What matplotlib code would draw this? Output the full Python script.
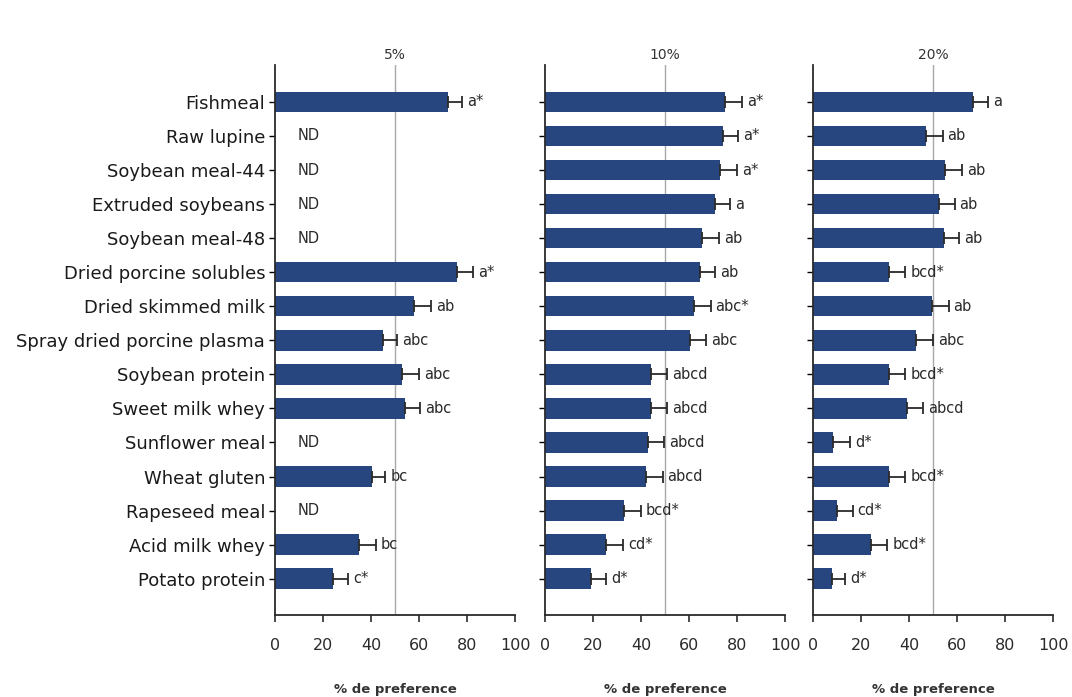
import numpy as np
import matplotlib.pyplot as plt

plt.rcParams['font.family'] = ['DejaVu Sans']

ingredients = ['Fishmeal', 'Raw lupine', 'Soybean meal-44', 'Extruded soybeans',
               'Soybean meal-48', 'Dried porcine solubles', 'Dried skimmed milk',
               'Spray dried porcine plasma', 'Soybean protein', 'Sweet milk whey',
               'Sunflower meal', 'Wheat gluten', 'Rapeseed meal', 'Acid milk whey',
               'Potato protein']

levels = ['5%', '10%', '20%']

# None = not determined (ND)
pref_5 = [72, None, None, None, None, 76, 58, 45, 53, 54, None, 40.5, None, 35, 24]
err_5 = [6, None, None, None, None, 6.5, 7, 6, 7, 6.5, None, 5.5, None, 7, 6.5]
lab_5 = ['a*', '', '', '', '', 'a*', 'ab', 'abc', 'abc', 'abc', '', 'bc', '', 'bc', 'c*']

pref_10 = [75, 74, 73, 71, 65.5, 64.5, 62, 60.5, 44, 44, 43, 42, 33, 25.5, 19]
err_10 = [7, 6.5, 7, 6, 7, 6.5, 7, 6.5, 7, 7, 6.5, 7, 7, 7, 6.5]
lab_10 = ['a*', 'a*', 'a*', 'a', 'ab', 'ab', 'abc*', 'abc', 'abcd', 'abcd', 'abcd',
          'abcd', 'bcd*', 'cd*', 'd*']

pref_20 = [66.5, 47, 55, 52.5, 54.5, 31.5, 49.5, 43, 31.5, 39, 8.5, 31.5, 10, 24, 8]
err_20 = [6.5, 7, 7, 6.5, 6.5, 7, 7, 7, 7, 7, 7, 7, 6.5, 7, 5.5]
lab_20 = ['a', 'ab', 'ab', 'ab', 'ab', 'bcd*', 'ab', 'abc', 'bcd*', 'abcd', 'd*',
          'bcd*', 'cd*', 'bcd*', 'd*']

panels = [(pref_5, err_5, lab_5), (pref_10, err_10, lab_10), (pref_20, err_20, lab_20)]
lefts = [0.2565, 0.5084, 0.7584]
width = 0.224
bar_color = '#27467f'
ink = '#2a2a2a'

fig = plt.figure(figsize=(10.72, 6.97), dpi=100)
y = np.arange(len(ingredients))

for k, (vals, errs, labs) in enumerate(panels):
    ax = fig.add_axes([lefts[k], 0.118, width, 0.789])
    ax.axvline(50, color='#a8a8a8', lw=1.0, zorder=0)
    for i, (v, e, lab) in enumerate(zip(vals, errs, labs)):
        if v is None:
            ax.text(9.5, i, 'ND', ha='left', va='center', fontsize=10.5, color=ink)
            continue
        ax.barh(i, v, height=0.6, color=bar_color, zorder=2)
        ax.errorbar(v, i, xerr=[[0], [e]], fmt='none', ecolor=ink,
                    elinewidth=1.3, capsize=4, capthick=1.3, zorder=3)
        ax.text(v + e + 2, i, lab, ha='left', va='center', fontsize=10.5, color=ink)

    ax.set_xlim(0, 100)
    ax.set_ylim(len(ingredients) - 1 + 1.06, -1.09)
    ax.set_xticks([0, 20, 40, 60, 80, 100])
    ax.set_yticks(y)
    if k == 0:
        ax.set_yticklabels(ingredients, fontsize=13, color='#1a1a1a')
    else:
        ax.set_yticklabels([])
    ax.tick_params(axis='y', length=4, width=1, direction='out', pad=3)
    ax.tick_params(axis='x', length=5, width=1.2, direction='out',
                   labelsize=11.5, pad=12, colors=ink)
    for side in ['top', 'right']:
        ax.spines[side].set_visible(False)
    for side in ['left', 'bottom']:
        ax.spines[side].set_linewidth(1.3)
        ax.spines[side].set_color(ink)
    ax.set_title(levels[k], fontsize=10, color='#333333', pad=4)
    ax.set_xlabel('% de preference', fontsize=9.5, color='#333333',
                  fontweight='bold', labelpad=21)

fig.savefig('out.png', dpi=100)
